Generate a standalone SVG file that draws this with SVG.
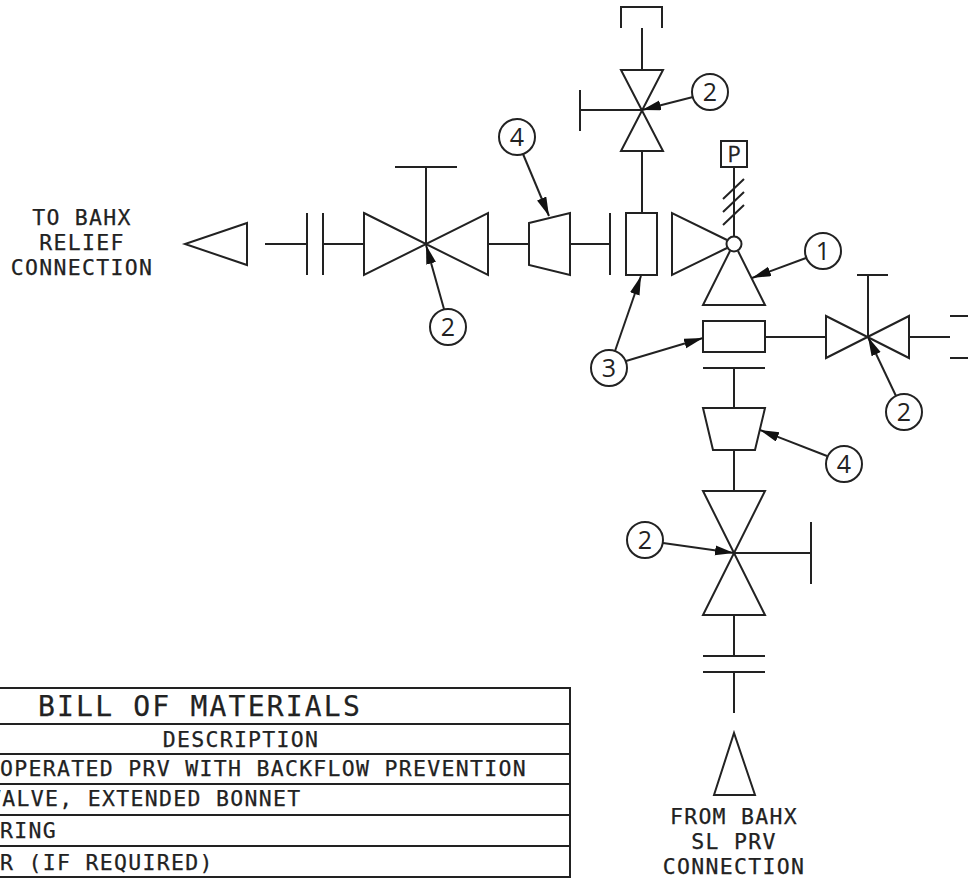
<svg xmlns="http://www.w3.org/2000/svg" width="968" height="878" viewBox="0 0 968 878">
<style>
.l{fill:none;stroke:#222;stroke-width:2}
.t{font-family:"DejaVu Sans Mono",monospace;fill:#222;stroke:#222;stroke-width:.25}
.m{font-size:21.5px;letter-spacing:1.3px}
.c{text-anchor:middle}
.n{font-family:"Open Sans","DejaVu Sans",sans-serif;font-size:25px;fill:#222;stroke:none;text-anchor:middle}
.b{fill:#fff;stroke:#222;stroke-width:2}
.d{fill:none;stroke:#222;stroke-width:2;marker-end:url(#a)}
</style>
<defs>
<marker id="a" markerUnits="userSpaceOnUse" markerWidth="22" markerHeight="12" refX="19" refY="5" orient="auto"><path d="M0,0L19,5L0,10Z" fill="#111"/></marker>
</defs>
<rect width="968" height="878" fill="#fff"/>
<g id="connectors" class="l">
<path d="M265,244H307M323,244H364M488,244H529M570,244H610"/>
<path d="M642,28V70M642,151V213"/>
<path d="M765,337H826M909,337H950"/>
<path d="M734,368V408M734,450V491M734,615V656M734,672V713"/>
<path d="M734,167V236"/>
</g>
<g id="outlet-arrow" class="l"><path d="M247,223L185,244L247,265Z"/></g>
<g id="flange-left" class="l"><path d="M307,213V275M323,213V275"/></g>
<g id="valve-left" class="l"><path d="M364,213L488,275V213L364,275Z"/><path d="M426,244V167M395,167H457"/></g>
<g id="reducer-left" class="l"><path d="M529,223L570,213V275L529,265Z"/></g>
<g id="flange-mid" class="l"><path d="M610,213V275"/></g>
<g id="valve-top" class="l"><path d="M621,70H663L621,151H663Z"/><path d="M642,110H580M580,90V131"/><path d="M621,28V7H662V28"/></g>
<g id="tee-top" class="l"><rect x="626" y="213" width="31" height="62"/></g>
<g id="prv">
<g class="l">
<path d="M727,240L672,213V275L727,248"/>
<path d="M730,251L703,305H765L738,251"/>
<circle cx="734" cy="244" r="7.5"/>
<rect x="721" y="141" width="26" height="26"/>
<path d="M723,199L744,179M723,212L744,192M723,225L744,205"/>
</g>
<text x="734" y="162" class="n" style="font-size:22px;stroke:#222;stroke-width:.3px">P</text>
</g>
<g id="tee-right" class="l"><rect x="703" y="321" width="62" height="31"/><path d="M703,368H765"/></g>
<g id="valve-right" class="l"><path d="M826,316L909,358V316L826,358Z"/><path d="M868,337V275M857,275H888"/><path d="M950,316H968M950,358H968"/></g>
<g id="reducer-bottom" class="l"><path d="M703,408H765L755,450H713Z"/></g>
<g id="valve-bottom" class="l"><path d="M703,491H765L703,615H765Z"/><path d="M734,553H811M811,522V584"/></g>
<g id="flange-bottom" class="l"><path d="M703,656H765M703,672H765"/></g>
<g id="inlet-arrow" class="l"><path d="M714,795L734,733L755,795Z"/></g>
<g id="leaders">
<path class="d" d="M693,97L642,110"/>
<path class="d" d="M523,154L549,216"/>
<path class="d" d="M444,309L426,245"/>
<path class="d" d="M806,258L752,278"/>
<path class="d" d="M615,351L641,276"/>
<path class="d" d="M626,361L703,338"/>
<path class="d" d="M896,396L868,337"/>
<path class="d" d="M827,456L760,430"/>
<path class="d" d="M663,543L734,553"/>
</g>
<g id="callout-2a"><circle class="b" cx="710" cy="92" r="18"/><text x="710" y="101" class="n">2</text></g>
<g id="callout-4a"><circle class="b" cx="517" cy="137" r="18"/><text x="517" y="146" class="n">4</text></g>
<g id="callout-2b"><circle class="b" cx="448" cy="327" r="18"/><text x="448" y="336" class="n">2</text></g>
<g id="callout-1"><circle class="b" cx="823" cy="251" r="18"/><text x="823" y="260" class="n">1</text></g>
<g id="callout-3"><circle class="b" cx="609" cy="368" r="18"/><text x="609" y="377" class="n">3</text></g>
<g id="callout-2c"><circle class="b" cx="904" cy="412" r="18"/><text x="904" y="421" class="n">2</text></g>
<g id="callout-4b"><circle class="b" cx="844" cy="464" r="18"/><text x="844" y="473" class="n">4</text></g>
<g id="callout-2d"><circle class="b" cx="645" cy="540" r="18"/><text x="645" y="549" class="n">2</text></g>
<g id="label-relief" class="t m c">
<text x="82" y="225">TO BAHX</text><text x="82" y="250">RELIEF</text><text x="82" y="275">CONNECTION</text>
</g>
<g id="label-sl" class="t m c">
<text x="734" y="824">FROM BAHX</text><text x="734" y="849">SL PRV</text><text x="734" y="874">CONNECTION</text>
</g>
<g id="bom">
<path class="l" d="M0,688H570V878M0,724H570M0,754H570M0,784H570M0,815H570M0,846H570M0,877H570"/>
<text x="38" y="716" class="t" style="font-size:28px;letter-spacing:2.2px">BILL OF MATERIALS</text>
<text x="241" y="747" class="t m c">DESCRIPTION</text>
<text x="0" y="776" class="t m">OPERATED PRV WITH BACKFLOW PREVENTION</text>
<text x="-12" y="806" class="t m">VALVE, EXTENDED BONNET</text>
<text x="0" y="838" class="t m">RING</text>
<text x="0" y="870" class="t m">R (IF REQUIRED)</text>
</g>
</svg>
